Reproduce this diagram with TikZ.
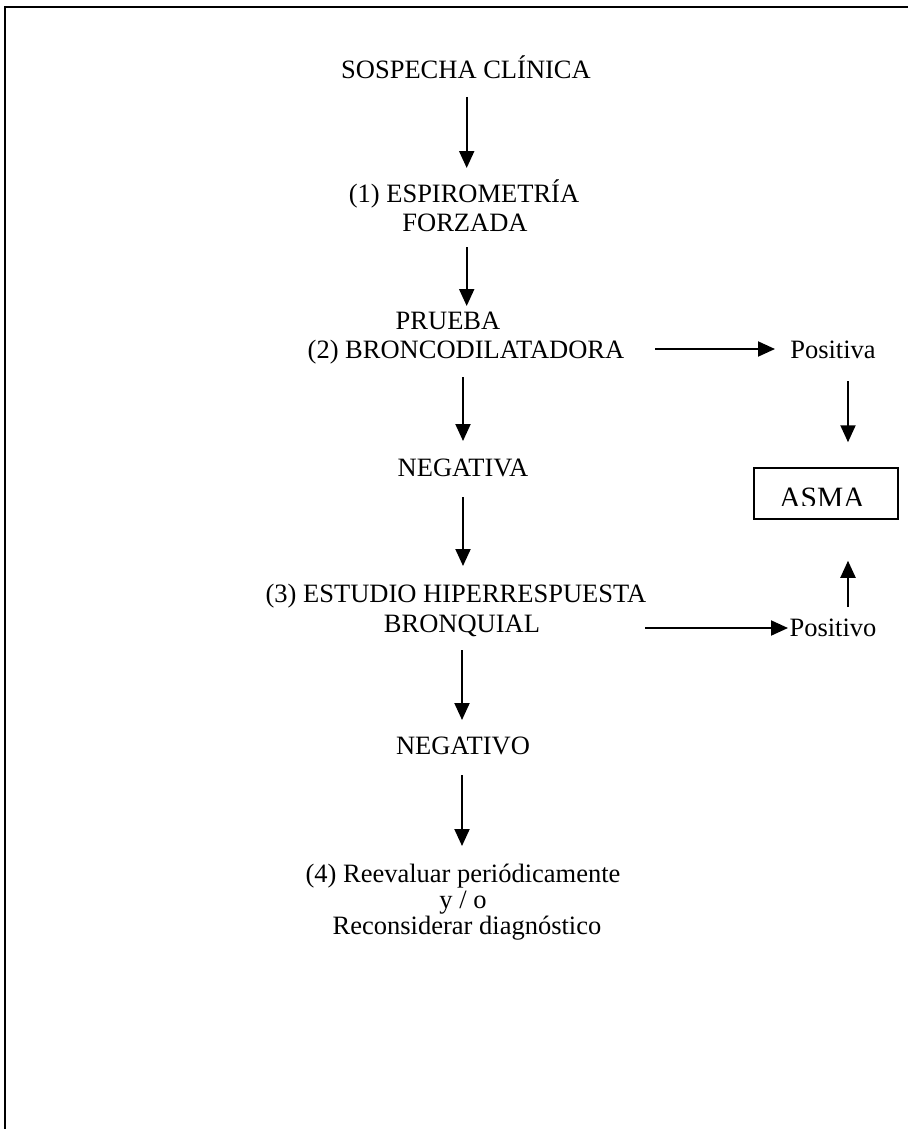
\documentclass[tikz,border=0pt]{standalone}
\usepackage{fontspec}
\setmainfont{Liberation Serif}
\usetikzlibrary{arrows.meta}
\begin{document}
\begin{tikzpicture}[x=1pt,y=-1pt,
  lbl/.style={inner sep=0pt,anchor=base,font=\fontsize{26.5}{29}\selectfont},
  arr/.style={line width=2pt,-{Triangle[length=17pt,width=15pt]}},
  frame/.style={line width=2pt},
  result/.style={draw,line width=1.5pt,minimum width=144pt,minimum height=51pt,inner sep=0pt}]
\useasboundingbox (0,0) rectangle (908,1129);
\draw[frame] (5,1129) -- (5,7) -- (908,7);
% left column
\node[lbl] (sos) at (466,79) {SOSPECHA CLÍNICA};
\node[lbl] (esp1) at (464,202) {(1) ESPIROMETRÍA};
\node[lbl] (esp2) at (465,231) {FORZADA};
\node[lbl] (pru1) at (448,329) {PRUEBA};
\node[lbl] (pru2) at (466,358) {(2) BRONCODILATADORA};
\node[lbl] (nega) at (463,476) {NEGATIVA};
\node[lbl] (est1) at (456,602) {(3) ESTUDIO HIPERRESPUESTA};
\node[lbl] (est2) at (462,632) {BRONQUIAL};
\node[lbl] (nego) at (463,754) {NEGATIVO};
\node[lbl] (re1) at (463,882) {(4) Reevaluar periódicamente};
\node[lbl] (re2) at (463,908) {y / o};
\node[lbl] (re3) at (467,934) {Reconsiderar diagnóstico};
% right column
\node[lbl] (posa) at (833,358) {Positiva};
\node[lbl] (posi) at (833,636) {Positivo};
\node[result] (asma) at (826,493.5) {};
\begin{scope}
  \clip (754,468) rectangle (898,505);
  \node[inner sep=0pt,anchor=base,font=\fontsize{29.5}{32}\selectfont] (asmat) at (822,507) {ASMA};
\end{scope}
% connectors
\draw[arr] ([xshift=0.7pt,yshift=-18pt]sos.base) -- ([xshift=2.7pt,yshift=34pt]esp1.base);
\draw[arr] ([xshift=1.7pt,yshift=-16pt]esp2.base) -- ([xshift=18.7pt,yshift=23pt]pru1.base);
\draw[arr] ([xshift=-3pt,yshift=-19pt]pru2.base) -- ([yshift=35pt]nega.base);
\draw[arr] ([yshift=-21pt]nega.base) -- ([xshift=7pt,yshift=36pt]est1.base);
\draw[arr] ([yshift=-18pt]est2.base) -- ([xshift=-1pt,yshift=34pt]nego.base);
\draw[arr] ([xshift=-1pt,yshift=-21pt]nego.base) -- ([xshift=-1pt,yshift=36pt]re1.base);
\draw[arr] ([xshift=189pt,yshift=9pt]pru2.base) -- ([xshift=-58pt,yshift=9pt]posa.base);
\draw[arr] ([xshift=15pt,yshift=-23pt]posa.base) -- ([xshift=22pt,yshift=25pt]asma.north);
\draw[arr] ([xshift=183pt,yshift=4pt]est2.base) -- ([xshift=-45pt,yshift=8pt]posi.base);
\draw[arr] ([xshift=15pt,yshift=29pt]posi.base) -- ([xshift=22pt,yshift=-41pt]asma.south);
\end{tikzpicture}
\end{document}
